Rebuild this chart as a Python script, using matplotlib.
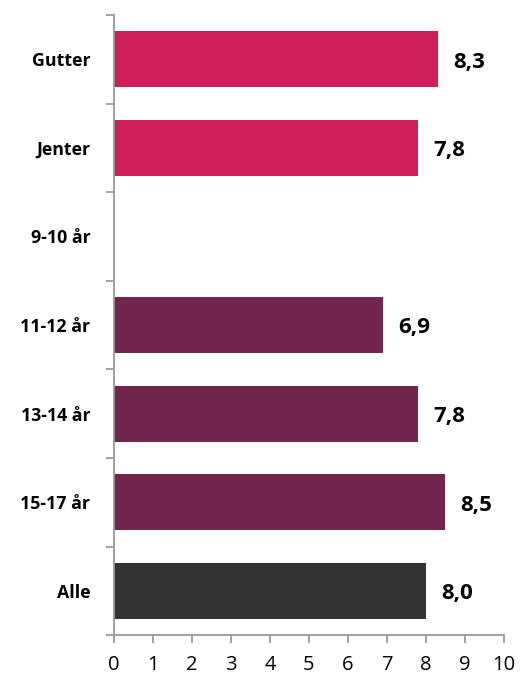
import numpy as np
import matplotlib
matplotlib.use("Agg")
import matplotlib.pyplot as plt

categories = ["Gutter", "Jenter", "9-10 år", "11-12 år", "13-14 år", "15-17 år", "Alle"]
values = [8.3, 7.8, None, 6.9, 7.8, 8.5, 8.0]
colors = ["#CE1F5A", "#CE1F5A", "#72264F", "#72264F", "#72264F", "#72264F", "#333333"]
xticks = list(range(0, 11))

plt.rcParams['font.family'] = ['Open Sans', 'DejaVu Sans']

fig = plt.figure(figsize=(5.2, 6.8), dpi=100)
ax = fig.add_axes([0.219, 0.066, 0.75, 0.912])

ypos = np.arange(len(categories))
for i, (v, c) in enumerate(zip(values, colors)):
    if v is None:
        continue
    ax.barh(i, v, height=0.63, color=c)
    ax.annotate(f"{v:.1f}".replace(".", ","), (v, i), xytext=(11, -2),
                textcoords="offset points", va="center", ha="left",
                fontsize=16, fontweight="bold", color="black")

ax.set_xlim(0, 10)
ax.set_ylim(6.5, -0.5)
ax.set_xticks(xticks)
ax.set_xticklabels([str(x) for x in xticks], fontsize=14.5)
ax.set_yticks(ypos)
ax.set_yticklabels(categories, fontsize=12.8, fontweight="bold")
ax.set_yticks(np.arange(-0.5, 7, 1), minor=True)
ax.tick_params(axis="y", which="major", length=0, pad=17)
ax.tick_params(axis="y", which="minor", length=6, width=1.3, color="#999999")
ax.tick_params(axis="x", length=6, width=1.3, color="#999999", pad=8)

for s in ["top", "right"]:
    ax.spines[s].set_visible(False)
for s in ["left", "bottom"]:
    ax.spines[s].set_color("#999999")
    ax.spines[s].set_linewidth(1.3)

fig.savefig("out.png", dpi=100)
